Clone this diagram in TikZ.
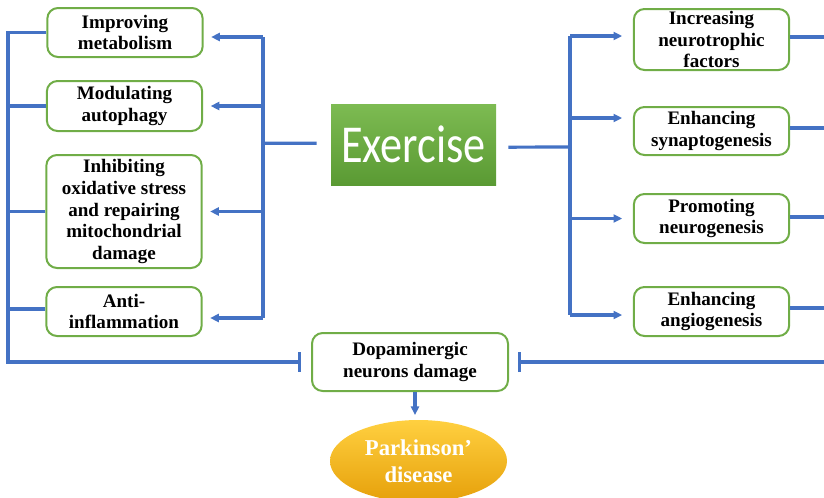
\documentclass[tikz,border=0pt]{standalone}
\usepackage{fontspec}
\usepackage{graphicx}
\setmainfont{Liberation Serif}
\newfontfamily\exfont{Carlito}
\usetikzlibrary{arrows.meta,shapes.geometric,calc}
\definecolor{lblue}{HTML}{4472C4}
\definecolor{bgreen}{HTML}{70AD47}
\definecolor{extop}{HTML}{7DBB52}
\definecolor{exbot}{HTML}{5A9A33}
\definecolor{pdtop}{HTML}{FFD040}
\definecolor{pdbot}{HTML}{E6A00A}
\begin{document}
\begin{tikzpicture}[x=0.75pt,y=-0.75pt,
  box/.style={draw=bgreen,line width=1.5pt,rounded corners=8pt,fill=white,align=center,
    font=\fontsize{14.3}{16.2}\selectfont\bfseries,inner sep=0pt,minimum width=116.5pt},
  conn/.style={draw=lblue,line width=2.4pt},
  arr/.style={conn,-{Triangle[length=6.5pt,width=6pt]}},
  inh/.style={conn,-{Bar[width=15pt,line width=2.4pt]}},
]
\useasboundingbox (0,0) rectangle (824,497);

% left boxes
\node[box,minimum height=36.75pt] (m1) at (125,32.5) {Improving\\metabolism};
\node[box,minimum height=37.5pt] (m2) at (124.5,106) {Modulating\\autophagy};
\node[box,minimum height=84.75pt] (m3) at (124,211.5) {Inhibiting\\oxidative stress\\and repairing\\mitochondrial\\damage};
\node[box,minimum height=36.75pt] (m4) at (124,311.5) {Anti-\\inflammation};

% right boxes
\node[box,minimum height=45.75pt] (r1) at (711.5,39.5) {Increasing\\neurotrophic\\factors};
\node[box,minimum height=36pt] (r2) at (711.5,131) {Enhancing\\synaptogenesis};
\node[box,minimum height=36.75pt] (r3) at (711.5,218.5) {Promoting\\neurogenesis};
\node[box,minimum height=36.75pt] (r4) at (711.5,311.5) {Enhancing\\angiogenesis};

% center
\node[top color=extop,bottom color=exbot,minimum width=123.75pt,minimum height=60.75pt,inner sep=0pt,
  text=white,font=\exfont\fontsize{40}{40}\selectfont] (ex) at (413.5,144.5) {\scalebox{0.83}[1]{Exercise}};
\node[box,minimum width=147pt,minimum height=43.5pt] (d) at (410,362) {Dopaminergic\\neurons damage};
\node[ellipse,top color=pdtop,bottom color=pdbot,minimum width=132.75pt,minimum height=61.5pt,inner sep=0pt,
  text=white,align=center,font=\fontsize{17}{20}\selectfont\bfseries] (pd) at (418.5,461) {Parkinson’\\disease};

% left collecting lines
\coordinate (lx) at (8,0);
\draw[inh] (m1.west) -| (lx |- d.west) -- ([xshift=-7.5pt]d.west);
\draw[conn] (m2.west) -- (m2.west -| lx);
\draw[conn] (m3.west) -- (m3.west -| lx);
\draw[conn] ($(m4.west)+(0,-2.5)$) -- ($(m4.west -| lx)+(0,-2.5)$);

% left bracket
\coordinate (bx) at (263,0);
\coordinate (la1) at ($(m1.east)+(0,4.5)$);
\coordinate (la2) at (m2.east);
\coordinate (la3) at (m3.east);
\coordinate (la4) at ($(m4.east)+(0,6.5)$);
\draw[conn] ([xshift=-10.5pt,yshift=1pt]ex.west) -- ($(ex.west -| bx)+(0,-1.3)$);
\draw[conn] (la1 -| bx) -- (la4 -| bx);
\foreach \c in {la1,la2,la3,la4} \draw[arr,shorten >=5.6pt] (\c -| bx) -- (\c);

% right bracket
\coordinate (rx) at (570,0);
\coordinate (ra1) at ($(r1.west)+(0,-3.5)$);
\coordinate (ra2) at ($(r2.west)+(0,-13)$);
\coordinate (ra3) at (r3.west);
\coordinate (ra4) at ($(r4.west)+(0,3.5)$);
\draw[conn] ([xshift=9pt,yshift=-2pt]ex.east) -- ($(ex.east -| rx)+(0,2.5)$);
\draw[conn] (ra1 -| rx) -- (ra4 -| rx);
\foreach \c in {ra1,ra2,ra3,ra4} \draw[arr,shorten >=8pt] (\c -| rx) -- (\c);

% right outgoing lines
\coordinate (edge) at (830,0);
\coordinate (ro1) at ($(r1.east)+(0,-2.5)$);
\coordinate (ro2) at ($(r2.east)+(0,-3)$);
\coordinate (ro3) at ($(r3.east)+(0,-1.5)$);
\coordinate (ro4) at ($(r4.east)+(0,-3.5)$);
\foreach \c in {ro1,ro2,ro3,ro4} \draw[conn] (\c) -- (\c -| edge);
\draw[inh] (d.east -| edge) -- ([xshift=6.75pt]d.east);

% down arrow
\draw[arr,shorten >=3.5pt] ($(d.south)+(5,0)$) -- ($(pd.north)+(-3.5,0)$);
\end{tikzpicture}
\end{document}
